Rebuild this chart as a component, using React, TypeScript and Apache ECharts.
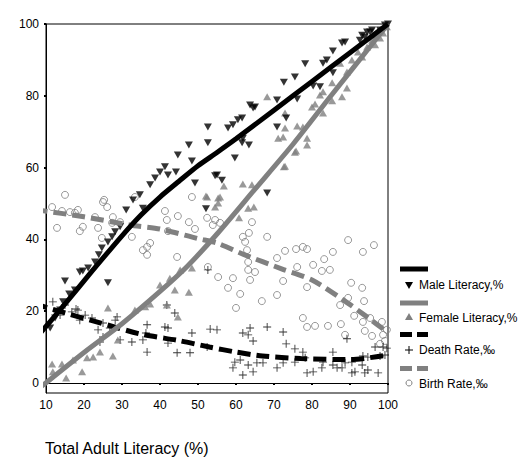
import React, { useEffect, useRef } from "react";
import * as echarts from "echarts";

const maleLiteracy: [number, number][] = [
  [11.1, 15.3], [12.4, 18.1], [13.7, 20.3], [14.5, 22.6], [15.0, 28.4], [16.1, 24.8], [17.6, 25.9],
  [18.9, 30.9], [19.7, 31.2], [21.1, 32.0], [22.9, 33.7], [23.9, 35.7], [24.7, 37.6], [26.3, 27.9],
  [26.3, 39.3], [27.4, 40.7], [28.2, 42.1], [29.5, 43.5], [31.1, 48.2], [32.9, 51.0], [34.7, 52.4],
  [35.5, 48.7], [37.4, 55.2], [38.7, 57.1], [40.0, 58.8], [41.3, 60.2], [42.1, 57.9], [44.2, 58.8],
  [44.7, 63.5], [47.6, 66.3], [48.4, 61.8], [49.2, 55.7], [52.1, 48.5], [52.6, 71.3], [52.6, 66.9],
  [54.5, 57.7], [55.0, 57.9], [56.3, 56.5], [57.9, 71.0], [59.2, 71.9], [59.7, 62.7], [60.5, 73.3],
  [61.6, 73.8], [61.8, 68.2], [61.6, 66.9], [63.4, 66.3], [63.7, 77.4], [64.5, 76.6], [65.0, 76.9],
  [68.2, 52.9], [70.8, 78.8], [70.8, 71.3], [72.6, 83.8], [73.2, 73.8], [75.5, 85.2], [76.1, 79.1],
  [78.2, 88.9], [80.3, 82.7], [82.1, 82.5], [82.9, 89.1], [83.9, 90.0], [85.5, 92.5], [85.5, 86.4],
  [87.9, 94.7], [88.7, 95.0], [92.6, 95.5], [93.2, 96.9], [93.9, 96.4], [94.5, 97.8], [95.3, 97.8],
  [95.8, 98.3], [96.6, 96.1], [97.9, 98.3], [99.2, 99.7], [100, 100],
];

const femaleLiteracy: [number, number][] = [
  [11.8, 3.1], [11.6, 5.3], [14.2, 5.3], [15.3, 1.4], [17.1, 6.4], [19.5, 3.1], [20.8, 7.0],
  [22.4, 7.2], [24.2, 8.6], [27.6, 7.5], [28.9, 12.0], [26.3, 20.9], [33.4, 20.3], [36.1, 21.2],
  [37.4, 22.0], [40.0, 27.3], [41.8, 21.7], [42.6, 29.2], [43.9, 25.9], [45.3, 31.5], [47.6, 25.3],
  [44.7, 18.4], [48.4, 32.0], [52.1, 52.1], [52.4, 51.8], [55.3, 50.1], [56.8, 54.9], [54.5, 49.0],
  [55.3, 51.5], [55.8, 51.8], [60.8, 46.0], [61.8, 55.4], [64.2, 55.2], [63.2, 48.7], [64.7, 49.0],
  [72.6, 60.2], [72.9, 60.4], [75.5, 64.3], [75.8, 64.6], [78.7, 66.3], [68.2, 79.7], [72.9, 75.2],
  [72.9, 71.0], [71.1, 68.2], [72.4, 68.5], [76.1, 71.6], [77.6, 71.3], [78.7, 68.2], [80.0, 76.9],
  [80.8, 77.7], [82.9, 75.2], [82.1, 80.2], [82.9, 81.1], [85.3, 83.6], [85.3, 78.6], [87.9, 79.7],
  [89.2, 82.2], [89.2, 86.6], [87.4, 89.1], [90.5, 90.0], [92.1, 92.2], [93.2, 90.8], [94.5, 93.6],
  [95.8, 95.5], [96.6, 94.2], [97.9, 96.1], [98.7, 97.5], [99.7, 99.2],
];

const deathRate: [number, number][] = [
  [11.8, 22.6], [12.9, 19.8], [13.7, 18.9], [15.0, 21.7], [16.8, 19.8], [17.9, 20.6], [18.4, 20.3],
  [18.9, 17.5], [20.3, 18.9], [22.1, 18.1], [23.7, 14.8], [25.0, 16.7], [25.0, 12.8], [24.2, 11.4],
  [26.8, 15.3], [28.2, 17.5], [28.7, 18.4], [29.5, 12.0], [32.6, 11.4], [35.5, 12.0], [36.3, 13.9],
  [36.6, 16.2], [36.6, 8.6], [41.3, 15.6], [42.1, 15.3], [41.8, 21.7], [43.9, 19.5], [42.1, 11.1],
  [44.5, 8.4], [47.9, 8.4], [48.4, 13.9], [52.6, 31.5], [52.4, 10.0], [53.2, 15.0], [55.0, 14.8],
  [59.2, 4.2], [59.7, 5.8], [61.1, 6.4], [61.8, 13.9], [61.8, 2.2], [63.2, 13.4], [63.2, 5.0],
  [63.7, 15.3], [64.5, 11.7], [64.5, 3.1], [65.5, 5.6], [67.1, 5.6], [68.2, 15.6], [70.8, 4.2],
  [72.4, 14.2], [72.4, 5.6], [73.2, 10.9], [75.5, 9.5], [75.5, 5.8], [77.6, 8.6], [78.2, 7.0],
  [78.7, 2.8], [80.3, 3.1], [82.6, 4.2], [82.9, 5.8], [85.5, 8.6], [85.5, 5.0], [86.6, 4.2],
  [87.9, 4.2], [88.7, 5.6], [89.2, 12.3], [90.5, 5.8], [90.5, 2.8], [91.3, 3.1], [93.2, 5.0],
  [93.4, 7.5], [93.9, 2.8], [94.7, 7.2], [94.7, 3.6], [96.6, 10.0], [97.4, 2.8], [97.9, 7.5],
  [98.7, 10.0], [99.2, 7.8], [99.7, 9.7],
];

const birthRate: [number, number][] = [
  [11.6, 49.0], [15.0, 52.4], [14.2, 47.9], [16.3, 47.6], [18.4, 48.2], [17.6, 47.4], [12.9, 43.2],
  [18.9, 42.3], [19.7, 43.5], [22.9, 46.2], [23.7, 43.2], [25.0, 50.4], [26.1, 49.0], [27.6, 46.2],
  [27.4, 44.6], [29.5, 44.8], [24.7, 40.4], [25.3, 51.0], [32.6, 40.7], [33.4, 51.8], [35.5, 37.0],
  [36.6, 37.9], [37.4, 39.0], [36.6, 35.7], [41.3, 47.9], [41.8, 45.4], [42.1, 42.3], [44.7, 46.5],
  [47.6, 44.8], [49.2, 42.9], [48.4, 51.8], [52.4, 46.0], [44.5, 35.1], [52.6, 32.3], [53.9, 44.0],
  [55.8, 44.6], [54.5, 45.4], [64.2, 44.8], [61.8, 40.7], [62.4, 39.3], [63.4, 41.8], [68.2, 40.7],
  [62.9, 37.0], [70.8, 34.8], [72.9, 36.8], [75.8, 37.3], [77.6, 37.9], [78.7, 37.3], [76.1, 32.3],
  [80.3, 32.9], [82.6, 31.2], [84.7, 31.5], [83.2, 34.5], [85.5, 36.5], [89.5, 39.8], [93.4, 36.5],
  [96.3, 38.4], [63.2, 33.7], [63.2, 31.5], [65.0, 30.9], [55.3, 29.5], [57.9, 26.5], [59.2, 29.2],
  [63.7, 28.7], [61.1, 24.8], [60.0, 20.9], [66.8, 22.8], [70.8, 24.5], [72.4, 28.4], [78.7, 26.7],
  [90.3, 27.9], [93.2, 26.5], [89.5, 23.7], [87.4, 21.7], [93.7, 22.8], [91.1, 18.7], [77.6, 18.1],
  [78.7, 15.6], [80.8, 15.9], [84.2, 15.9], [87.6, 16.4], [88.7, 13.4], [93.4, 17.0], [93.9, 14.5],
  [95.8, 13.1], [97.9, 10.9], [98.7, 13.4], [99.2, 11.7], [99.7, 14.8], [98.4, 17.0], [95.3, 18.1],
];

const maleFit: [number, number][] = [
  [7, 12], [15, 22], [22, 31], [30, 41], [35, 46.8], [40, 51.8], [45, 56.2], [50, 60.5],
  [55, 64.2], [60, 68], [70, 76], [80, 84], [90, 92], [100, 100],
];
const femaleFit: [number, number][] = [
  [7, -2.5], [20, 8.5], [30, 16.5], [40, 25.5], [47, 32.3], [55, 41.5], [65, 54], [75, 66.5],
  [85, 80], [95, 93.3], [100, 100],
];
const deathFit: [number, number][] = [
  [7, 22], [15, 19.5], [24, 16.8], [35, 13.6], [45, 11.8], [53, 10], [60, 8.6], [67, 7.5],
  [77, 6.8], [90, 6.5], [100, 7.8],
];
const birthFit: [number, number][] = [
  [7, 48.3], [20, 46.3], [32, 44], [40, 42.9], [50, 40.2], [55, 39], [62, 35.8], [72, 31.8],
  [80, 28.7], [88, 23.3], [95, 18], [100, 14],
];

const yTicks = [0, 20, 40, 60, 80, 100];
const legendLabels = ["Male Literacy,%", "Female Literacy,%", "Death Rate,‰", "Birth Rate,‰"];
const xTitle = "Total Adult Literacy (%)";

const FONT = "Liberation Sans, Arial, sans-serif";
const GRAY = "#808080";
const PLUS = "path://M4,0h1v4h4v1h-4v4h-1v-4h-4v-1h4z";

export default function App() {
  const ref = useRef<HTMLDivElement>(null);
  useEffect(() => {
    if (!ref.current) return;
    const chart = echarts.init(ref.current, undefined, { renderer: "svg" });
    const lx = 400;
    const fitLine = (data: [number, number][], color: string, dashed: boolean) => ({
      type: "line",
      data,
      smooth: 0.25,
      showSymbol: false,
      clip: false,
      lineStyle: dashed
        ? { color, width: 5, type: [13, 6], cap: "butt" }
        : { color, width: 5 },
    });
    const option: any = {
      animation: false,
      backgroundColor: "#fff",
      grid: {
        left: 46,
        right: 140,
        top: 24,
        bottom: 73,
        show: true,
        borderColor: "#000",
        borderWidth: 1,
        backgroundColor: "transparent",
      },
      xAxis: {
        type: "value",
        min: 10,
        max: 100,
        interval: 10,
        splitLine: { show: false },
        axisLine: { lineStyle: { color: "#000", width: 1 } },
        axisTick: { length: 2, lineStyle: { color: "#000", width: 2 } },
        axisLabel: { color: "#000", fontSize: 12, fontFamily: FONT, margin: 6 },
      },
      yAxis: {
        type: "value",
        min: -2.8,
        max: 100,
        splitLine: { show: false },
        axisLine: { show: true, lineStyle: { color: "#000", width: 1 } },
        axisTick: { show: true, length: 2, lineStyle: { color: "#000", width: 2 }, customValues: yTicks },
        axisLabel: { color: "#000", fontSize: 12, fontFamily: FONT, margin: 7, customValues: yTicks },
      },
      series: [
        {
          type: "scatter",
          data: birthRate,
          symbol: "circle",
          symbolSize: 7,
          itemStyle: { color: "rgba(0,0,0,0)", borderColor: GRAY, borderWidth: 1 },
        },
        {
          type: "scatter",
          data: deathRate,
          symbol: PLUS,
          symbolSize: 8,
          itemStyle: { color: "#000" },
        },
        {
          type: "scatter",
          data: femaleLiteracy,
          symbol: "triangle",
          symbolSize: [8, 7],
          itemStyle: { color: GRAY },
        },
        {
          type: "scatter",
          data: maleLiteracy,
          symbol: "triangle",
          symbolRotate: 180,
          symbolSize: [8, 7],
          itemStyle: { color: "#000" },
        },
        fitLine(birthFit, GRAY, true),
        fitLine(deathFit, "#000", true),
        fitLine(femaleFit, GRAY, false),
        fitLine(maleFit, "#000", false),
      ],
      graphic: [
        { type: "line", shape: { x1: lx, y1: 269, x2: lx + 28, y2: 269 }, style: { stroke: "#000", lineWidth: 5 } },
        { type: "polygon", shape: { points: [[405, 282], [413, 282], [409, 289]] }, style: { fill: "#000" } },
        { type: "text", style: { text: legendLabels[0], x: 419, y: 285, font: `12px ${FONT}`, fill: "#000", verticalAlign: "middle" } },
        { type: "line", shape: { x1: lx, y1: 303, x2: lx + 28, y2: 303 }, style: { stroke: GRAY, lineWidth: 5 } },
        { type: "polygon", shape: { points: [[405, 320], [413, 320], [409, 313]] }, style: { fill: GRAY } },
        { type: "text", style: { text: legendLabels[1], x: 419, y: 318, font: `12px ${FONT}`, fill: "#000", verticalAlign: "middle" } },
        { type: "rect", shape: { x: 400, y: 332, width: 12, height: 5 }, style: { fill: "#000" } },
        { type: "rect", shape: { x: 417, y: 332, width: 11, height: 5 }, style: { fill: "#000" } },
        { type: "line", shape: { x1: 409, y1: 346, x2: 409, y2: 354 }, style: { stroke: "#000", lineWidth: 1 } },
        { type: "line", shape: { x1: 405, y1: 350, x2: 413, y2: 350 }, style: { stroke: "#000", lineWidth: 1 } },
        { type: "text", style: { text: legendLabels[2], x: 419, y: 350, font: `12px ${FONT}`, fill: "#000", verticalAlign: "middle" } },
        { type: "rect", shape: { x: 400, y: 366, width: 12, height: 5 }, style: { fill: GRAY } },
        { type: "rect", shape: { x: 417, y: 366, width: 11, height: 5 }, style: { fill: GRAY } },
        { type: "circle", shape: { cx: 409, cy: 383, r: 3 }, style: { fill: "none", stroke: GRAY, lineWidth: 1 } },
        { type: "text", style: { text: legendLabels[3], x: 419, y: 384, font: `12px ${FONT}`, fill: "#000", verticalAlign: "middle" } },
        { type: "text", style: { text: xTitle, x: 45, y: 448, font: `16px ${FONT}`, fill: "#000", verticalAlign: "middle" } },
      ],
    };
    chart.setOption(option);
    return () => chart.dispose();
  }, []);
  return (
    <div
      ref={ref}
      style={{ position: "absolute", left: 0, top: 0, width: 528, height: 466, background: "#fff" }}
    />
  );
}
